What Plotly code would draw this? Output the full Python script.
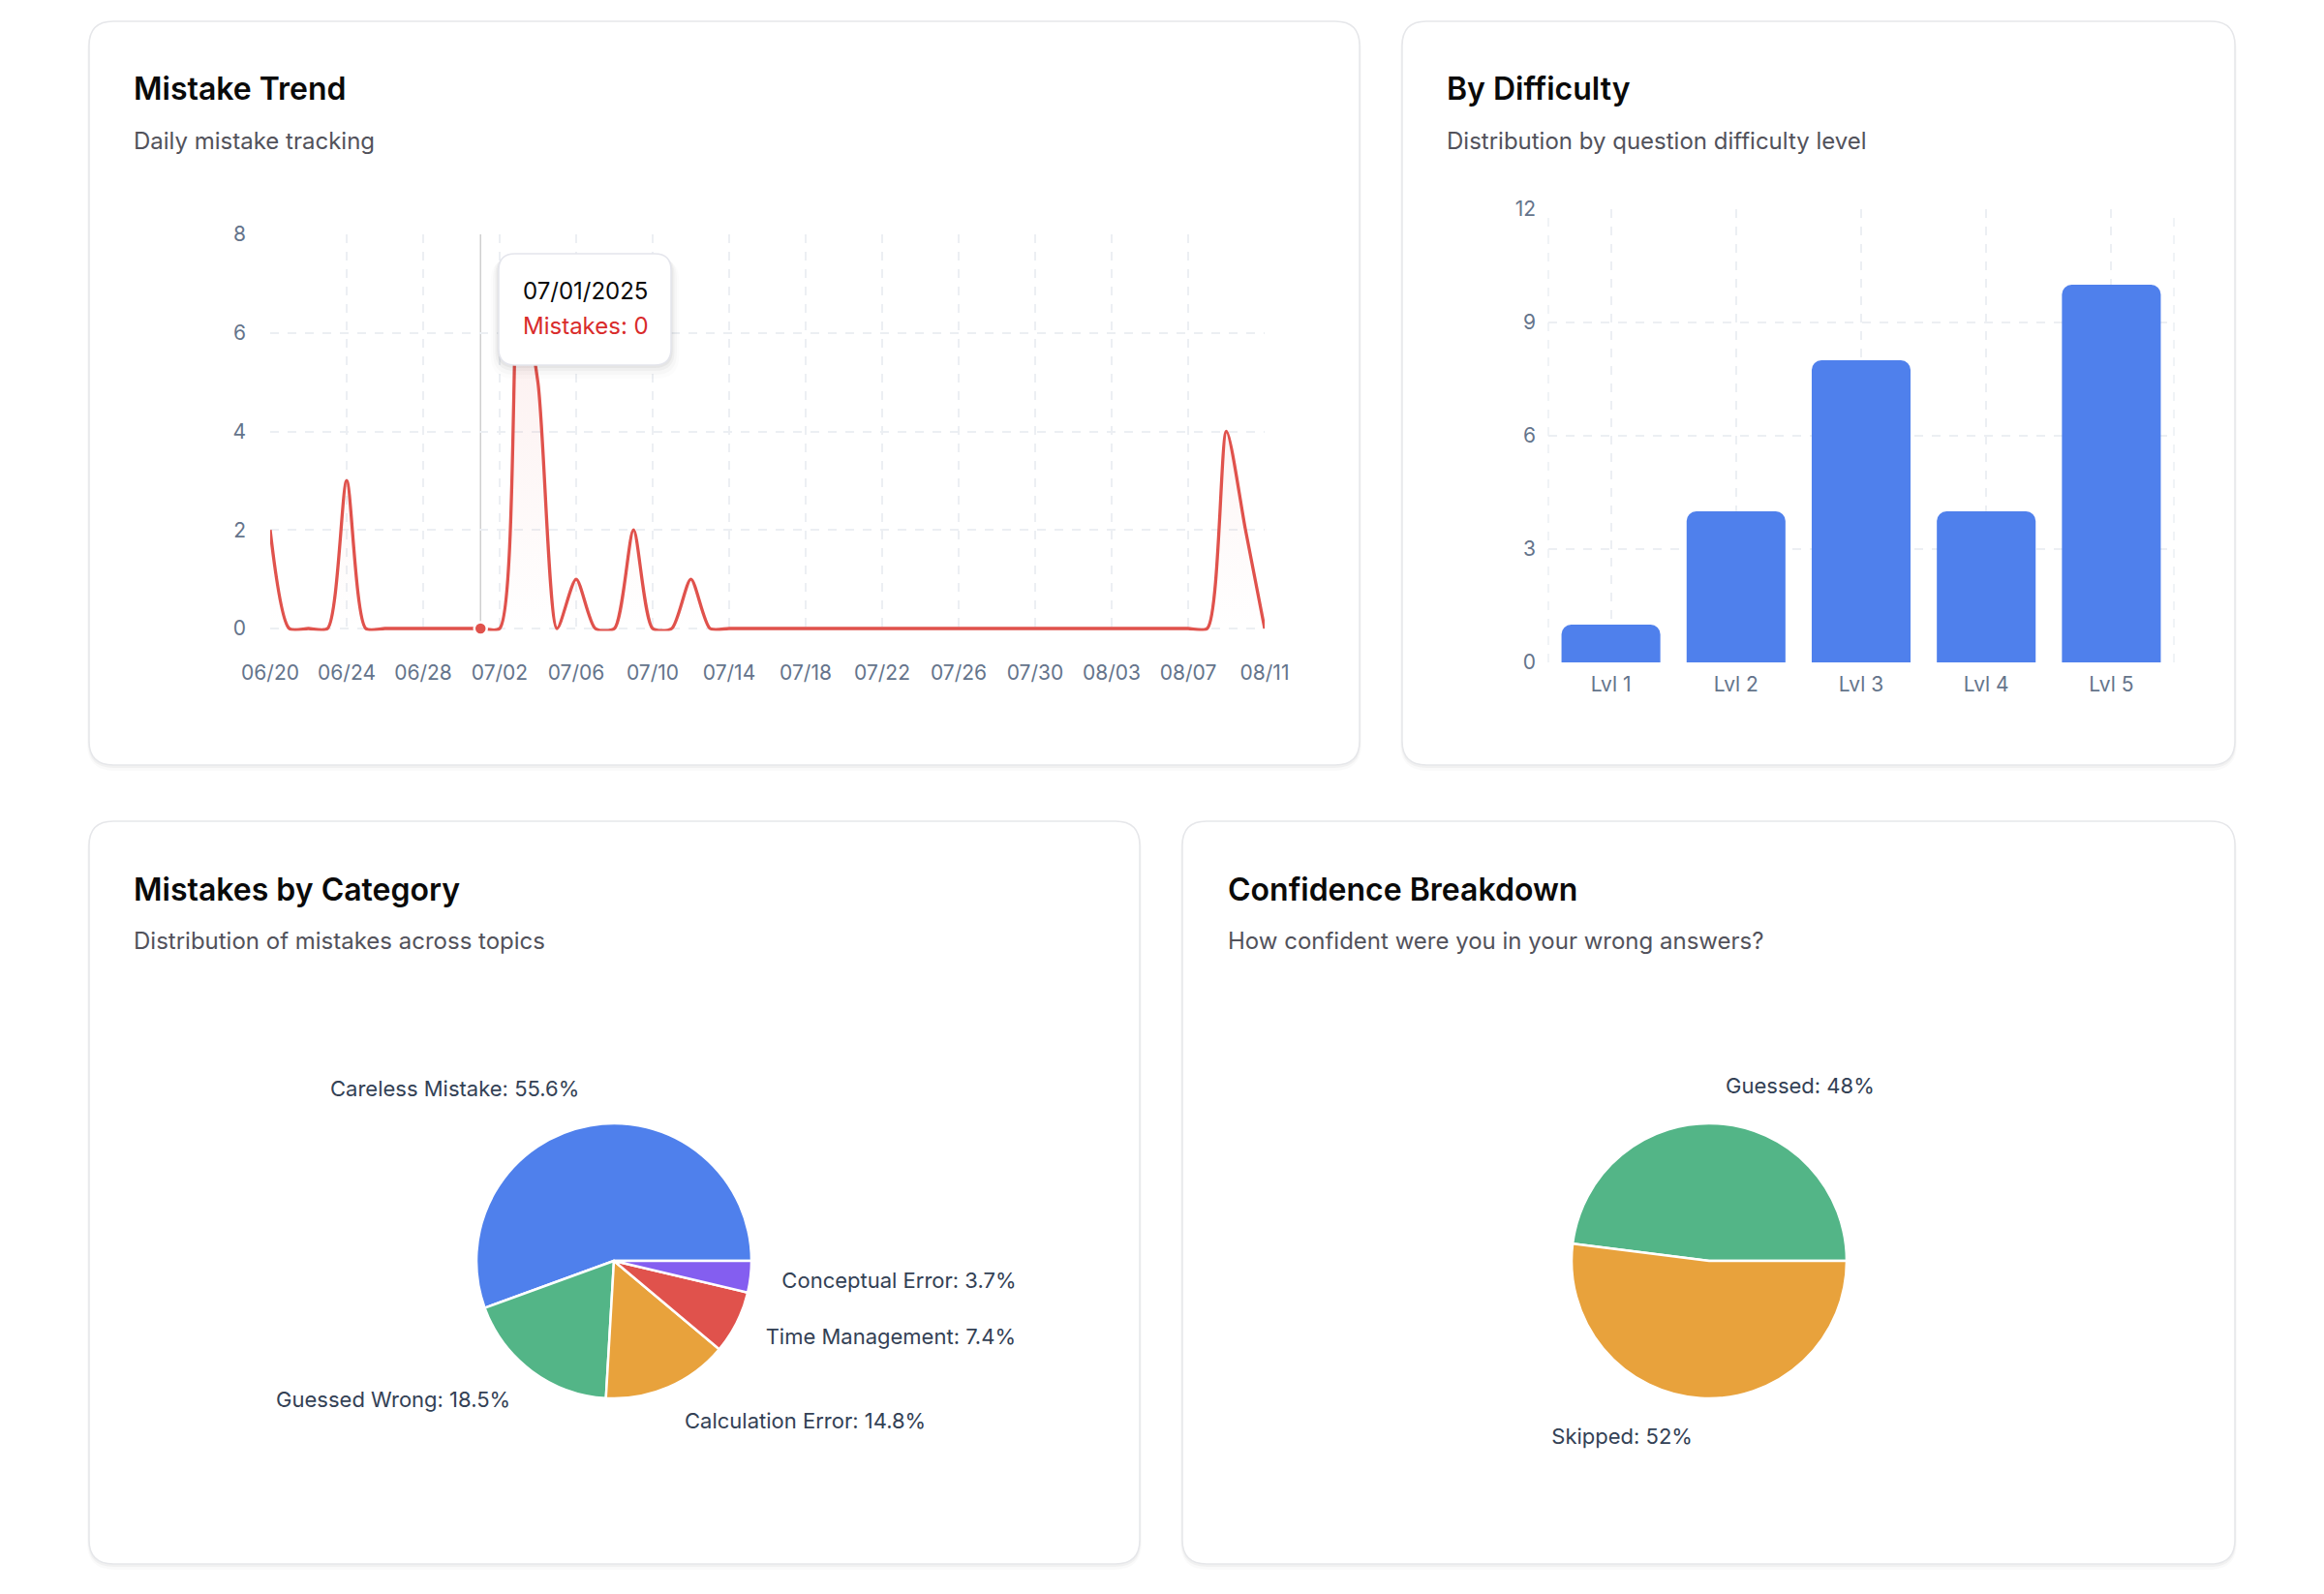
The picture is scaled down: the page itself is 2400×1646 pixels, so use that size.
import pandas as pd
import plotly.graph_objects as go

W, H = 2400, 1646

# ---------------- data ----------------
trend_start = "2025-06-20"
trend_values = [2, 0, 0, 0, 3, 0, 0, 0, 0, 0, 0, 0, 0, 7, 5, 0, 1, 0, 0, 2, 0, 0, 1, 0,
                0, 0, 0, 0, 0, 0, 0, 0, 0, 0, 0, 0, 0, 0, 0, 0, 0, 0, 0, 0, 0, 0, 0, 0,
                0, 0, 4, 2, 0]
trend_dates = pd.date_range(trend_start, periods=len(trend_values), freq="D")
hover_index = 11  # 07/01/2025 (tooltip shown in reference)

difficulty_levels = ["Lvl 1", "Lvl 2", "Lvl 3", "Lvl 4", "Lvl 5"]
difficulty_counts = [1, 4, 8, 4, 10]
difficulty_ticks = [0, 3, 6, 9, 12]

category_labels = ["Careless Mistake", "Guessed Wrong", "Calculation Error",
                   "Time Management", "Conceptual Error"]
category_counts = [15, 5, 4, 2, 1]
category_colors = ["#4F80EC", "#53B587", "#E8A23C", "#E0524C", "#845EF0"]

confidence_labels = ["Guessed", "Skipped"]
confidence_counts = [12, 13]
confidence_colors = ["#53B587", "#E8A23C"]

trend_ticks_y = [0, 2, 4, 6, 8]

FONT = "Inter, Roboto, sans-serif"
TICK_COLOR = "#64748b"
GRID = "#eceff3"
RED = "#E0524C"


def px(x):
    return x / W


def py(y):
    return 1 - y / H


def rrect(x0, y0, x1, y1, r):
    return (f"M {px(x0 + r)},{py(y0)} L {px(x1 - r)},{py(y0)} "
            f"Q {px(x1)},{py(y0)} {px(x1)},{py(y0 + r)} "
            f"L {px(x1)},{py(y1 - r)} Q {px(x1)},{py(y1)} {px(x1 - r)},{py(y1)} "
            f"L {px(x0 + r)},{py(y1)} Q {px(x0)},{py(y1)} {px(x0)},{py(y1 - r)} "
            f"L {px(x0)},{py(y0 + r)} Q {px(x0)},{py(y0)} {px(x0 + r)},{py(y0)} Z")


def start_at_three_oclock(values):
    # plotly counterclockwise pies place the first slice clockwise of `rotation`;
    # shift so the first slice begins at 3 o'clock and runs counterclockwise
    return 90 - 360.0 * values[0] / sum(values)


shapes = []
cards = [(92, 22, 1404, 790), (1448, 22, 2308, 790),
         (92, 848, 1177, 1615), (1221, 848, 2308, 1615)]
for (x0, y0, x1, y1) in cards:
    shapes.append(dict(type="path", path=rrect(x0 - 2, y0 + 1, x1 + 2, y1 + 6, 28),
                       xref="paper", yref="paper", fillcolor="rgba(0,0,0,0.02)",
                       line=dict(width=0), layer="below"))
    shapes.append(dict(type="path", path=rrect(x0 - 1, y0 + 1, x1 + 1, y1 + 3, 26),
                       xref="paper", yref="paper", fillcolor="rgba(0,0,0,0.035)",
                       line=dict(width=0), layer="below"))
    shapes.append(dict(type="path", path=rrect(x0, y0, x1, y1, 25),
                       xref="paper", yref="paper", fillcolor="white",
                       line=dict(color="#e6e7ea", width=1.5), layer="below"))

# bar chart edge grid lines (left/right of plot area)
for xv in (0, 1):
    shapes.append(dict(type="line", xref="x2 domain", yref="y2 domain",
                       x0=xv, x1=xv, y0=0, y1=1,
                       line=dict(color=GRID, width=1.5, dash="dash"), layer="below"))

# tooltip cursor line
shapes.append(dict(type="line", xref="x", yref="y domain",
                   x0=trend_dates[hover_index], x1=trend_dates[hover_index], y0=0, y1=1,
                   line=dict(color="#cfcfcf", width=1.5), layer="below"))

# tooltip box with shadow
tx0, ty0, tx1, ty1 = 515, 262, 693, 377
for off, a in [(14, 0.012), (10, 0.02), (6, 0.03), (3, 0.04)]:
    shapes.append(dict(type="path", path=rrect(tx0 - off * 0.6, ty0 + off * 0.3, tx1 + off * 0.6,
                                               ty1 + off, 17 + off * 0.5),
                       xref="paper", yref="paper", fillcolor=f"rgba(0,0,0,{a})",
                       line=dict(width=0), layer="above"))
shapes.append(dict(type="path", path=rrect(tx0, ty0, tx1, ty1, 17),
                   xref="paper", yref="paper", fillcolor="white",
                   line=dict(color="#e4e5ec", width=1.5), layer="above"))

fig = go.Figure()

# ---------------- Mistake Trend ----------------
fig.add_trace(go.Scatter(
    x=trend_dates, y=trend_values, mode="lines",
    line=dict(color=RED, width=3.3, shape="spline", smoothing=0.7),
    fill="tozeroy",
    fillgradient=dict(type="vertical",
                      colorscale=[[0, "rgba(224,82,76,0.0)"], [1, "rgba(224,82,76,0.10)"]]),
    xaxis="x", yaxis="y", hoverinfo="skip"))
fig.add_trace(go.Scatter(
    x=[trend_dates[hover_index]], y=[trend_values[hover_index]], mode="markers",
    marker=dict(color=RED, size=13, line=dict(color="white", width=2.5)),
    cliponaxis=False, xaxis="x", yaxis="y", hoverinfo="skip"))

# ---------------- By Difficulty ----------------
fig.add_trace(go.Bar(
    x=difficulty_levels, y=difficulty_counts,
    marker=dict(color="#4F80EC", cornerradius=10, line=dict(width=0)),
    xaxis="x2", yaxis="y2", hoverinfo="skip"))

# ---------------- Pies ----------------
pie_font = dict(family=FONT, size=22, color="#334155")
R_PIE, R_LABEL = 142, 168


def pie_domain(cx, cy, r):
    return dict(x=[px(cx - r), px(cx + r)], y=[py(cy + r), py(cy - r)])


def add_pie(labels, values, colors, cx, cy, fmt):
    rot = start_at_three_oclock(values)
    # label layer: same slices on a slightly larger invisible ring, carries the outside labels
    fig.add_trace(go.Pie(
        labels=labels, values=values, sort=False,
        direction="counterclockwise", rotation=rot,
        marker=dict(colors=["rgba(0,0,0,0)"] * len(values), line=dict(width=0)),
        textposition="outside", texttemplate="%{label}: %{percent:" + fmt + "}",
        outsidetextfont=pie_font, automargin=False,
        domain=pie_domain(cx, cy, R_LABEL), hoverinfo="skip", showlegend=False))
    # visible pie
    fig.add_trace(go.Pie(
        labels=labels, values=values, sort=False,
        direction="counterclockwise", rotation=rot,
        marker=dict(colors=colors, line=dict(color="white", width=2.5)),
        textinfo="none", automargin=False,
        domain=pie_domain(cx, cy, R_PIE), hoverinfo="skip", showlegend=False))


add_pie(category_labels, category_counts, category_colors, 634, 1302, ".1%")
add_pie(confidence_labels, confidence_counts, confidence_colors, 1765, 1302, ".0%")

# ---------------- titles ----------------
annotations = []
titles = [
    (136, 92, 145, "Mistake Trend", "Daily mistake tracking"),
    (1492, 92, 145, "By Difficulty", "Distribution by question difficulty level"),
    (136, 918, 971, "Mistakes by Category", "Distribution of mistakes across topics"),
    (1266, 918, 971, "Confidence Breakdown", "How confident were you in your wrong answers?"),
]
for x, yt, ys, t, s in titles:
    annotations.append(dict(x=px(x), y=py(yt), xref="paper", yref="paper", text=t,
                            showarrow=False, xanchor="left", yanchor="middle",
                            font=dict(family=FONT, size=32, color="#0a0a0a", weight=600)))
    annotations.append(dict(x=px(x), y=py(ys), xref="paper", yref="paper", text=s,
                            showarrow=False, xanchor="left", yanchor="middle",
                            font=dict(family=FONT, size=24, color="#52525b")))

# tooltip text
annotations.append(dict(x=px(538), y=py(300), xref="paper", yref="paper",
                        text=trend_dates[hover_index].strftime("%m/%d/%Y"),
                        showarrow=False, xanchor="left", yanchor="middle",
                        font=dict(family=FONT, size=24, color="#0a0a0a")))
annotations.append(dict(x=px(538), y=py(336), xref="paper", yref="paper",
                        text=f"Mistakes: {trend_values[hover_index]}",
                        showarrow=False, xanchor="left", yanchor="middle",
                        font=dict(family=FONT, size=24, color="#D92B2B")))

tickfont = dict(family=FONT, size=21, color=TICK_COLOR)
y_top, y_zero = 242, 649
unit = (y_zero - y_top) / 8
y_bottom = y_zero + 0.05 * unit

common = dict(showgrid=True, gridcolor=GRID, griddash="dash", gridwidth=1.5,
              ticks="", showline=False, zeroline=False, tickfont=tickfont,
              automargin=False, fixedrange=True)

fig.update_layout(
    width=W, height=H,
    margin=dict(l=0, r=0, t=0, b=0, pad=0, autoexpand=False),
    paper_bgcolor="white", plot_bgcolor="rgba(0,0,0,0)",
    showlegend=False, bargap=0.21,
    font=dict(family=FONT),
    shapes=shapes, annotations=annotations,
    xaxis=dict(type="date", domain=[px(279), px(1306)],
               range=[trend_dates[0], trend_dates[-1]],
               tick0=trend_dates[0], dtick=4 * 86400000, tickformat="%m/%d",
               ticklabelstandoff=28, anchor="y", **common),
    yaxis=dict(domain=[py(y_bottom), py(y_top)], range=[-0.05, 8],
               tickvals=trend_ticks_y, ticklabelstandoff=24, anchor="x", **common),
    xaxis2=dict(domain=[px(1599), px(2245)], type="category",
                ticklabelstandoff=8, anchor="y2", **common),
    yaxis2=dict(domain=[py(684), py(216)], range=[0, 12], tickvals=difficulty_ticks,
                ticklabelstandoff=12, anchor="x2", **common),
)

fig.write_html("out.html")
